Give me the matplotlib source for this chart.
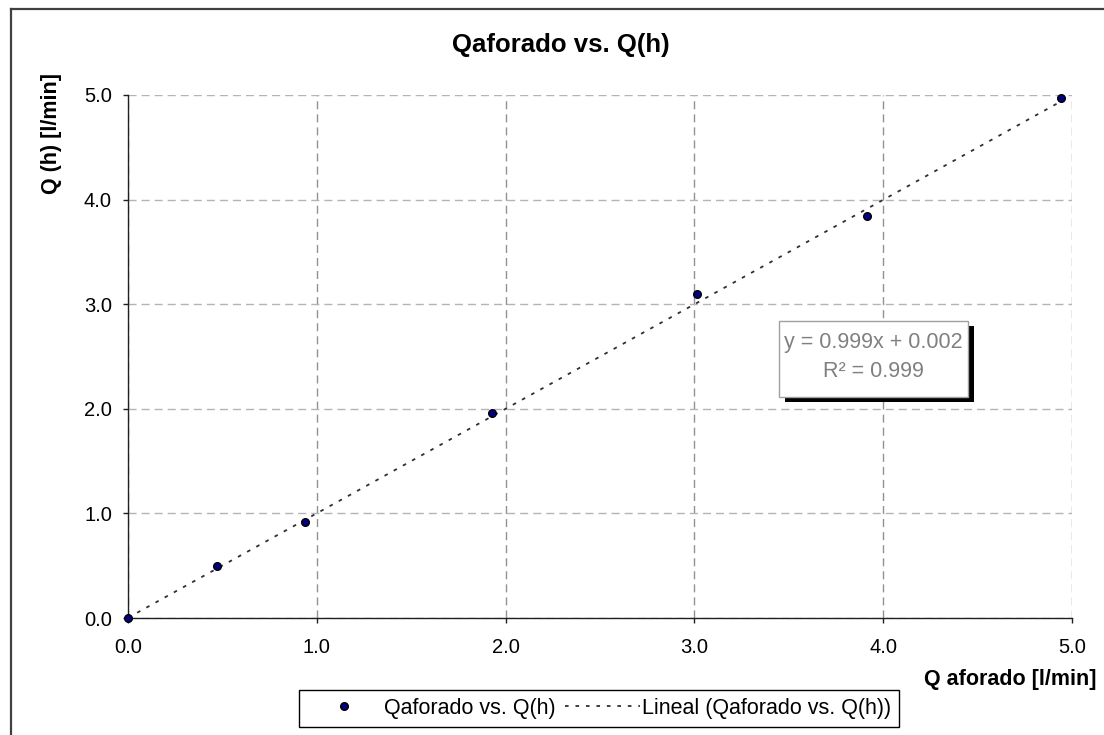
import matplotlib
matplotlib.use("Agg")
import matplotlib.pyplot as plt
from matplotlib.lines import Line2D
from matplotlib.patches import Rectangle
from matplotlib.transforms import ScaledTranslation
import numpy as np

plt.rcParams['font.family'] = ['Liberation Sans', 'DejaVu Sans']

# Data
q_aforado = [0.0, 0.473, 0.939, 1.93, 3.015, 3.916, 4.943]
q_h = [0.0, 0.50, 0.918, 1.96, 3.10, 3.846, 4.975]
slope = 0.999
intercept = 0.002
r2 = 0.999
ticks = [0.0, 1.0, 2.0, 3.0, 4.0, 5.0]
tick_labels = ["0.0", "1.0", "2.0", "3.0", "4.0", "5.0"]

W, H = 1104, 735
fig = plt.figure(figsize=(W / 100, H / 100), dpi=100)
fig.patch.set_facecolor('white')

# chart area border (top and left visible, rest cropped)
fig.add_artist(Line2D([11 / W, 11 / W], [1 - 9 / H, -0.1], transform=fig.transFigure,
                      color='#404040', lw=1.6))
fig.add_artist(Line2D([11 / W, 1.1], [1 - 9 / H, 1 - 9 / H], transform=fig.transFigure,
                      color='#404040', lw=1.6))

ax = fig.add_axes([128 / W, 1 - 618 / H, (1072 - 128) / W, (618 - 95) / H])
ax.set_xlim(0, 5)
ax.set_ylim(0, 5)
ax.set_xticks(ticks)
ax.set_yticks(ticks)
ax.set_xticklabels(tick_labels)
ax.set_yticklabels(tick_labels)

for s in ['top', 'right']:
    ax.spines[s].set_visible(False)
for s in ['left', 'bottom']:
    ax.spines[s].set_color('#202020')
    ax.spines[s].set_linewidth(1.0)

ax.tick_params(axis='both', direction='out', length=3.6, width=1.0, color='#202020',
               labelsize=14.5, labelcolor='black')
ax.tick_params(axis='x', pad=11)
ax.tick_params(axis='y', pad=8)

ax.xaxis.grid(True, color='#929292', lw=1.0, linestyle=(0, (5.8, 3.6)))
ax.yaxis.grid(True, color='#b4b4b4', lw=1.0, linestyle=(0, (5.8, 3.6)))
ax.set_axisbelow(True)

# trendline
xf = np.array([0.0, max(q_aforado)])
yf = slope * xf + intercept
ax.plot(xf, yf, color='#303030', lw=1.3, linestyle=(0, (2, 3.8)),
        label='Lineal (Qaforado vs. Q(h))', zorder=3)

# data points
ax.plot(q_aforado, q_h, linestyle='none', marker='o', markersize=5.5,
        markerfacecolor='#000080', markeredgecolor='black', markeredgewidth=1.0,
        label='Qaforado vs. Q(h)', zorder=4, clip_on=False)

# equation label box with shadow
box_x0, box_x1 = 3.448, 4.449
box_y0, box_y1 = 2.113, 2.839
shadow_tr = ax.transData + ScaledTranslation(6 / 100, -5 / 100, fig.dpi_scale_trans)
ax.add_patch(Rectangle((box_x0, box_y0), box_x1 - box_x0, box_y1 - box_y0,
                       transform=shadow_tr, facecolor='black', edgecolor='none',
                       zorder=8))
ax.add_patch(Rectangle((box_x0, box_y0), box_x1 - box_x0, box_y1 - box_y0,
                       facecolor='white', edgecolor='#a0a0a0', lw=1.0, zorder=9))
xc = (box_x0 + box_x1) / 2
ax.text(xc, 2.632, f"y = {slope:.3f}x + {intercept:.3f}", ha='center', va='center',
        fontsize=15.5, color='#808080', zorder=10)
ax.text(xc, 2.355, f"R² = {r2:.3f}", ha='center', va='center',
        fontsize=15.5, color='#808080', zorder=10)

# titles
fig.text(561 / W, 1 - 45 / H, "Qaforado vs. Q(h)", ha='center', va='center',
         fontsize=18.5, fontweight='bold')
fig.text(1097 / W, 1 - 679 / H, "Q aforado [l/min]", ha='right', va='center',
         fontsize=15.5, fontweight='bold')
fig.text(52 / W, 1 - 133 / H, "Q (h) [l/min]", ha='center', va='center',
         rotation=90, fontsize=15.5, fontweight='bold')

# legend
handles, labels = ax.get_legend_handles_labels()
order = [1, 0]
leg = fig.legend([handles[i] for i in order], [labels[i] for i in order],
                 loc='center', bbox_to_anchor=(599 / W, 1 - 708.5 / H), ncol=2,
                 fontsize=15.5, frameon=True, fancybox=False, edgecolor='black',
                 framealpha=1, borderpad=0.35, handlelength=3.5, handletextpad=0.1,
                 columnspacing=0.4, borderaxespad=0)
leg.get_frame().set_linewidth(1.0)

fig.savefig("out.png", dpi=100)
